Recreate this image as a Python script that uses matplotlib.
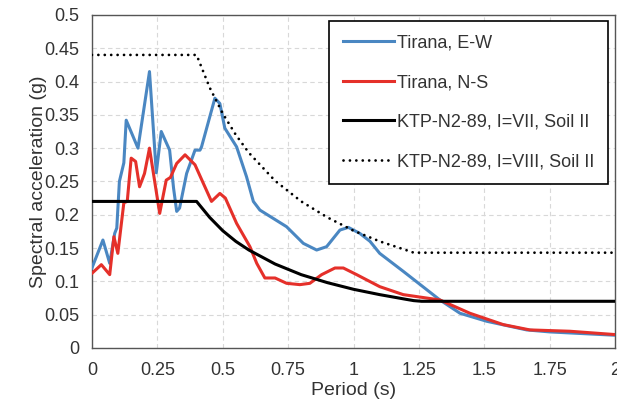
import numpy as np
from matplotlib import pyplot as plt
from matplotlib.ticker import FuncFormatter

###################
# Plot parameters #
###################
plt.rcParams['font.family'] = ['Liberation Sans', 'DejaVu Sans']

x_label = 'Period (s)'
y_label = 'Spectral acceleration (g)'

legend_ew = 'Tirana, E-W'
legend_ns = 'Tirana, N-S'
legend_vii = 'KTP-N2-89, I=VII, Soil II'
legend_viii = 'KTP-N2-89, I=VIII, Soil II'

x_ticks = [0, 0.25, 0.5, 0.75, 1, 1.25, 1.5, 1.75, 2]
y_ticks = [0, 0.05, 0.1, 0.15, 0.2, 0.25, 0.3, 0.35, 0.4, 0.45, 0.5]

# Tirana E-W record
period_ew = [0.0, 0.042, 0.068, 0.087, 0.095, 0.105, 0.122, 0.131, 0.176, 0.22,
             0.246, 0.265, 0.297, 0.312, 0.324, 0.335, 0.362, 0.394, 0.413, 0.419,
             0.47, 0.489, 0.508, 0.553, 0.591, 0.617, 0.642, 0.744, 0.808, 0.859,
             0.897, 0.948, 0.98, 1.024, 1.063, 1.10, 1.19, 1.33, 1.407, 1.509,
             1.662, 1.75, 2.0]
sa_ew = [0.12, 0.162, 0.127, 0.172, 0.18, 0.25, 0.278, 0.342, 0.30, 0.415,
         0.263, 0.325, 0.297, 0.24, 0.205, 0.21, 0.262, 0.297, 0.297, 0.302,
         0.375, 0.367, 0.33, 0.302, 0.257, 0.22, 0.207, 0.182, 0.157, 0.147,
         0.152, 0.177, 0.181, 0.172, 0.16, 0.142, 0.115, 0.072, 0.052, 0.04,
         0.027, 0.024, 0.019]

# Tirana N-S record
period_ns = [0.0, 0.036, 0.068, 0.084, 0.099, 0.122, 0.135, 0.15, 0.167, 0.182,
             0.201, 0.22, 0.259, 0.284, 0.3, 0.324, 0.356, 0.394, 0.426, 0.457,
             0.489, 0.51, 0.553, 0.604, 0.63, 0.661, 0.70, 0.744, 0.795, 0.833,
             0.878, 0.929, 0.961, 1.012, 1.10, 1.19, 1.33, 1.445, 1.572, 1.674,
             1.827, 2.0]
sa_ns = [0.112, 0.125, 0.11, 0.167, 0.142, 0.218, 0.22, 0.285, 0.28, 0.242,
         0.262, 0.30, 0.202, 0.252, 0.256, 0.277, 0.29, 0.275, 0.247, 0.22,
         0.232, 0.225, 0.187, 0.152, 0.127, 0.105, 0.105, 0.097, 0.095, 0.097,
         0.11, 0.12, 0.12, 0.11, 0.092, 0.08, 0.072, 0.052, 0.035, 0.027,
         0.025, 0.02]

# Design spectra KTP-N2-89
period_code = [0.0, 0.4, 0.45, 0.5, 0.55, 0.6, 0.7, 0.8, 0.9, 1.0, 1.1, 1.2, 1.23, 1.26, 2.0]
sa_vii = [0.22, 0.22, 0.196, 0.176, 0.16, 0.147, 0.126, 0.11, 0.098, 0.088, 0.08, 0.073, 0.071, 0.07, 0.07]
sa_viii = [0.44, 0.44, 0.391, 0.352, 0.32, 0.293, 0.251, 0.22, 0.196, 0.176, 0.16, 0.147, 0.143, 0.143, 0.143]


# Tick label like the original (no trailing zeros)
def short_label(v, pos):
    return '%g' % v


if __name__ == '__main__':

    # Define the figure
    fig = plt.figure(figsize=(6.17, 4.05), dpi=100)
    ax = fig.add_axes([0.149, 0.141, 0.848, 0.822])

    # Plot the curves
    ax.plot(period_ew, sa_ew, color='#4a87c2', linewidth=2.2, label=legend_ew, zorder=3)
    ax.plot(period_ns, sa_ns, color='#e5302a', linewidth=2.2, label=legend_ns, zorder=4)
    ax.plot(period_code, sa_vii, color='black', linewidth=2.2, label=legend_vii, zorder=5)
    ax.plot(period_code, sa_viii, color='black', linewidth=2.0, linestyle=(0, (0.01, 2.3)),
            dash_capstyle='round', label=legend_viii, zorder=5)

    # Axes limits, ticks and grid
    ax.set_xlim(0, 2)
    ax.set_ylim(0, 0.5)
    ax.set_xticks(x_ticks)
    ax.set_yticks(y_ticks)
    ax.xaxis.set_major_formatter(FuncFormatter(short_label))
    ax.yaxis.set_major_formatter(FuncFormatter(short_label))
    ax.tick_params(length=0, labelsize=13, labelcolor='#333333')
    ax.tick_params(axis='y', pad=9)
    ax.tick_params(axis='x', pad=10)
    ax.grid(linestyle=(0, (4, 3)), color='#d8d8d8', linewidth=0.8)
    ax.set_axisbelow(True)
    for s in ax.spines.values():
        s.set_color('#555555')
        s.set_linewidth(1.0)

    # Labels
    ax.set_xlabel(x_label, fontsize=14, color='#333333', labelpad=2)
    ax.set_ylabel(y_label, fontsize=14, color='#333333', labelpad=-2)

    # Legend
    leg = ax.legend(loc='upper right', bbox_to_anchor=(0.987, 0.982), borderaxespad=0,
                    fancybox=False, edgecolor='black', fontsize=13, labelcolor='#333333',
                    handlelength=2.85, handletextpad=0.17, labelspacing=1.25,
                    borderpad=0.75, framealpha=1)
    leg.get_frame().set_linewidth(1.2)

    # Save plot as image
    fig.savefig('out.png', dpi=100)
